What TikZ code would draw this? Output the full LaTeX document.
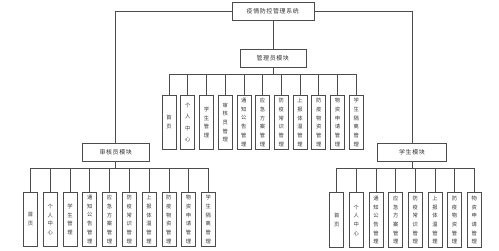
\documentclass[tikz,border=0pt]{standalone}
\usepackage{fontspec}
\newfontfamily\cjk{Noto Sans CJK SC}
\newfontfamily\cjkls[LetterSpace=10]{Noto Sans CJK SC}
\begin{document}
\begin{tikzpicture}[x=1pt,y=-1pt,
  ln/.style={draw=black!70, line width=0.6pt},
  mod/.style={draw=black!70, line width=0.6pt, fill=white, inner sep=0pt,
    font=\cjkls\fontsize{6}{7}\selectfont, text=black!80},
  leaf/.style={draw=black!70, line width=0.6pt, inner sep=0pt, minimum width=14pt,
    anchor=north, align=center, font=\cjk\fontsize{5.3}{8.7}\selectfont, text=black!80}]
\useasboundingbox (0,0) rectangle (499,251);
\node[mod, minimum width=82pt, minimum height=18pt] (sys) at (272.8,11.7) {疫情防控管理系统};
\node[mod, minimum width=66pt, minimum height=18.4pt] (adm) at (272.8,58.5) {管理员模块};
\node[mod, minimum width=67pt, minimum height=18.4pt] (rev) at (115.7,152.5) {审核员模块};
\node[mod, minimum width=69pt, minimum height=18.4pt] (stu) at (412,152.4) {学生模块};
\draw[ln] (sys) -- (adm);
\draw[ln] (sys.west) -| (rev.north);
\draw[ln] (sys.east) -| (stu.north);
% admin children
\foreach \t [count=\i] in {{首\\页},{个\\[2.8pt]人\\[2.8pt]中\\[2.8pt]心},{学\\生\\管\\理},{审\\核\\员\\管\\理},
  {通\\知\\公\\告\\管\\理},{应\\急\\方\\案\\管\\理},{防\\疫\\常\\识\\管\\理},{上\\报\\体\\温\\管\\理},
  {防\\疫\\物\\资\\管\\理},{物\\资\\申\\请\\管\\理},{学\\生\\隔\\离\\管\\理}} {
  \node[leaf, minimum height=54pt] (a\i) at ({169+(\i-1)*18.72},95) {\t};
  \draw[ln] (adm.south) -- ++(0,6.3) -| (a\i.north);
}
% reviewer children
\foreach \t [count=\i] in {{首\\页},{个\\人\\中\\心},{学\\生\\管\\理},
  {通\\知\\公\\告\\管\\理},{应\\急\\方\\案\\管\\理},{防\\疫\\常\\识\\管\\理},{上\\报\\体\\温\\管\\理},
  {防\\疫\\物\\资\\管\\理},{物\\资\\申\\请\\管\\理},{学\\生\\隔\\离\\管\\理}} {
  \node[leaf, minimum height=54pt] (r\i) at ({30.5+(\i-1)*19.76},192) {\t};
  \draw[ln] (rev.south) -- ++(0,6.6) -| (r\i.north);
}
% student children
\foreach \t [count=\i] in {{首\\页},{个\\人\\中\\心},
  {通\\知\\公\\告\\管\\理},{应\\急\\方\\案\\管\\理},{防\\疫\\常\\识\\管\\理},{上\\报\\体\\温\\管\\理},
  {防\\疫\\物\\资\\管\\理},{物\\资\\申\\请\\管\\理}} {
  \node[leaf, minimum height=55pt] (s\i) at ({336.7+(\i-1)*19.65},192.3) {\t};
  \draw[ln] (stu.south) -- ++(0,6.6) -| (s\i.north);
}
\end{tikzpicture}
\end{document}
